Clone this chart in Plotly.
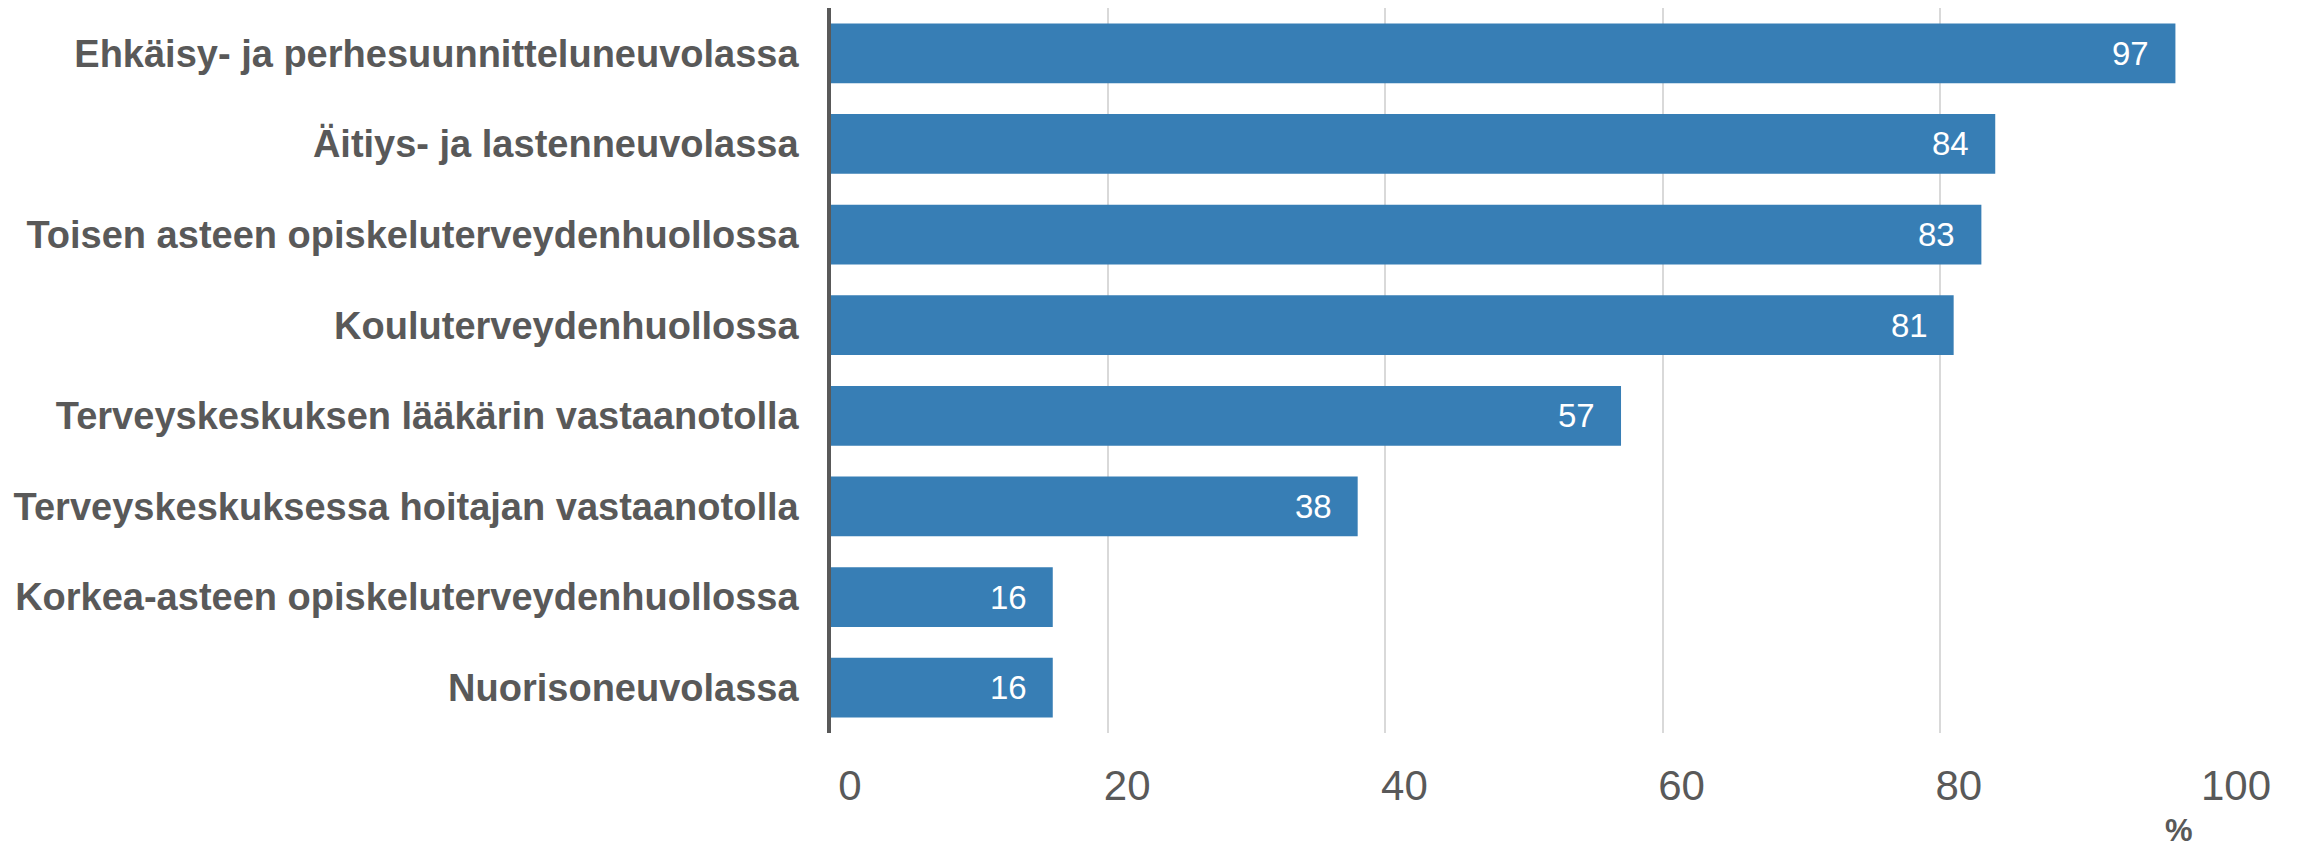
import plotly.graph_objects as go

categories = [
    "Ehkäisy- ja perhesuunnitteluneuvolassa",
    "Äitiys- ja lastenneuvolassa",
    "Toisen asteen opiskeluterveydenhuollossa",
    "Kouluterveydenhuollossa",
    "Terveyskeskuksen lääkärin vastaanotolla",
    "Terveyskeskuksessa hoitajan vastaanotolla",
    "Korkea-asteen opiskeluterveydenhuollossa",
    "Nuorisoneuvolassa",
]
values = [97, 84, 83, 81, 57, 38, 16, 16]
x_ticks = [0, 20, 40, 60, 80, 100]
unit_label = "%"

BAR_COLOR = "#377EB5"
TEXT_GREY = "#595959"
FONT = "Liberation Sans, Arial, sans-serif"

# page body has a default 8px margin; compensate so the plot lands where the reference has it
W, H = 2292, 841
ML, MR, MT, MB = 823, 83, 0, 116

fig = go.Figure()
fig.add_trace(go.Bar(
    x=values,
    y=categories,
    orientation="h",
    marker=dict(color=BAR_COLOR, line=dict(width=0)),
    hoverinfo="skip",
))

for c, v in zip(categories, values):
    fig.add_annotation(
        x=v, y=c, xref="x", yref="y",
        text=str(v), showarrow=False,
        xanchor="right", yanchor="middle", xshift=-24,
        font=dict(family=FONT, size=33, color="white"),
    )

fig.add_annotation(
    x=0.9728, y=-0.135, xref="paper", yref="paper",
    text="<b>" + unit_label + "</b>", showarrow=False,
    xanchor="center", yanchor="middle",
    font=dict(family=FONT, size=31, color=TEXT_GREY),
)

fig.update_layout(
    width=W, height=H,
    margin=dict(l=ML, r=MR, t=MT, b=MB, pad=0),
    paper_bgcolor="white", plot_bgcolor="white",
    bargap=0.34,
    showlegend=False,
    font=dict(family=FONT, color=TEXT_GREY),
    xaxis=dict(
        range=[0, 100],
        tickvals=x_ticks,
        ticktext=[str(t) for t in x_ticks],
        showgrid=True, gridcolor="#D9D9D9", gridwidth=2,
        zeroline=False, showline=False,
        ticks="",
        ticklabelstandoff=24,
        ticklabelshift=19,
        tickfont=dict(family=FONT, size=42, color=TEXT_GREY),
    ),
    yaxis=dict(
        categoryorder="array", categoryarray=categories,
        range=[len(categories) - 0.5, -0.5],
        showgrid=False, zeroline=False,
        showline=True, linecolor=TEXT_GREY, linewidth=3.5,
        ticks="",
        ticklabelstandoff=21,
        tickfont=dict(family=FONT, size=38, color=TEXT_GREY, weight="bold"),
    ),
)

fig.write_html("out.html")
